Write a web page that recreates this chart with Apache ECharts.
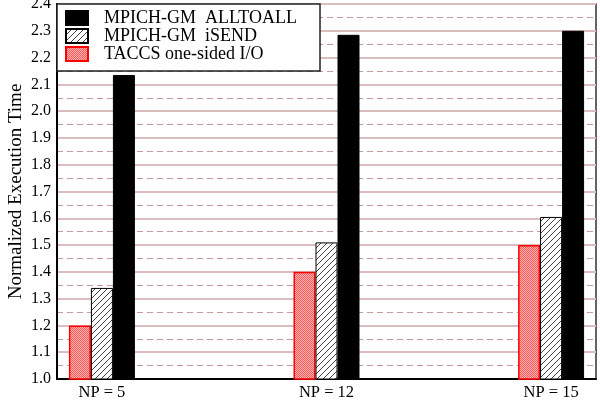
<!DOCTYPE html>
<html>
<head>
<meta charset="utf-8">
<script src="https://cdn.jsdelivr.net/npm/echarts@6/dist/echarts.min.js"></script>
<style>
  html, body { margin: 0; padding: 0; background: #fff; }
  #chart { width: 600px; height: 406px; }
</style>
</head>
<body>
<div id="chart"></div>
<script>
// Process counts along the x axis
const categories = ['NP = 5', 'NP = 12', 'NP = 15'];
// Normalized execution time per scheme
const taccsOneSided = [1.20, 1.40, 1.50];
const mpichIsend = [1.34, 1.51, 1.605];
const mpichAlltoall = [2.135, 2.285, 2.30];
// Y range and step
const yMin = 1.0, yMax = 2.4, yStep = 0.1;

const SERIF = '"Liberation Serif", "DejaVu Serif", serif';

// The x axis is a row of evenly spaced slots; each group sits on one of them,
// with empty slots padding the ends and the gaps between groups.
const SLOT_COUNT = 13, FIRST_SLOT = 1, SLOT_STEP = 5;
const slotOf = i => FIRST_SLOT + SLOT_STEP * i;
const slotLabels = Array.from({ length: SLOT_COUNT }, () => '');
categories.forEach((c, i) => { slotLabels[slotOf(i)] = c; });
function toSlots(values) {
  const out = Array.from({ length: SLOT_COUNT }, () => '-');
  values.forEach((v, i) => { out[slotOf(i)] = v; });
  return out;
}

// Diagonal hatch fill
function hatchPattern() {
  const c = document.createElement('canvas');
  c.width = 6; c.height = 6;
  const g = c.getContext('2d');
  g.fillStyle = '#fff';
  g.fillRect(0, 0, 6, 6);
  g.strokeStyle = '#444';
  g.lineWidth = 1;
  g.beginPath();
  g.moveTo(-1, 7); g.lineTo(7, -1);
  g.moveTo(-4, 4); g.lineTo(4, -4);
  g.moveTo(2, 10); g.lineTo(10, 2);
  g.stroke();
  return { image: c, repeat: 'repeat' };
}

// Stippled red fill
function stipplePattern() {
  const c = document.createElement('canvas');
  c.width = 2; c.height = 2;
  const g = c.getContext('2d');
  g.fillStyle = '#ffb4b4';
  g.fillRect(0, 0, 2, 2);
  g.fillStyle = '#ff5a5a';
  g.fillRect(0, 0, 1, 1);
  g.fillRect(1, 1, 1, 1);
  return { image: c, repeat: 'repeat' };
}

const chart = echarts.init(document.getElementById('chart'), null, { renderer: 'canvas' });

chart.setOption({
  animation: false,
  backgroundColor: '#fff',
  grid: {
    left: 57, right: 4, top: 4, bottom: 27,
    outerBoundsMode: 'none',
    containLabel: false,
    show: true,
    borderColor: '#333',
    borderWidth: 1.5,
    backgroundColor: 'transparent'
  },
  legend: {
    data: ['MPICH-GM  ALLTOALL', 'MPICH-GM  iSEND', 'TACCS one-sided I/O'],
    orient: 'vertical',
    left: 57, top: 4,
    padding: [5, 23, 8, 8],
    itemGap: 0,
    itemWidth: 22,
    itemHeight: 14,
    icon: 'rect',
    backgroundColor: '#fff',
    borderColor: '#222',
    borderWidth: 1.5,
    borderRadius: 0,
    textStyle: { fontFamily: SERIF, fontSize: 18, lineHeight: 16, color: '#000', padding: [0, 0, 0, 11] },
    z: 10
  },
  xAxis: {
    type: 'category',
    data: slotLabels,
    boundaryGap: false,
    axisLine: { show: true, onZero: false, lineStyle: { color: '#000', width: 2 } },
    axisTick: { show: false },
    splitLine: { show: false },
    axisLabel: {
      interval: 0,
      fontFamily: SERIF, fontSize: 16.5, color: '#000', margin: 5
    }
  },
  yAxis: {
    type: 'value',
    min: yMin, max: yMax, interval: yStep,
    name: 'Normalized Execution Time',
    nameLocation: 'middle',
    nameGap: 31,
    nameMoveOverlap: false,
    nameTextStyle: { fontFamily: SERIF, fontSize: 19, color: '#000' },
    axisLine: { show: true, onZero: false, lineStyle: { color: '#000', width: 2 } },
    axisTick: { show: false },
    axisLabel: {
      formatter: v => v.toFixed(1),
      fontFamily: SERIF, fontSize: 16, color: '#000', margin: 6
    },
    splitLine: { show: true, lineStyle: { color: '#dcbcbc', width: 2 } },
    minorTick: { show: false, splitNumber: 2 },
    minorSplitLine: { show: true, lineStyle: { color: '#c49a9a', width: 1, type: [6, 4] } }
  },
  series: [
    {
      name: 'TACCS one-sided I/O',
      type: 'bar',
      data: toSlots(taccsOneSided),
      barWidth: 22,
      barGap: '0%',
      itemStyle: { color: stipplePattern(), borderColor: '#ff0000', borderWidth: 1.5 }
    },
    {
      name: 'MPICH-GM  iSEND',
      type: 'bar',
      data: toSlots(mpichIsend),
      barWidth: 22,
      barGap: '0%',
      itemStyle: { color: hatchPattern(), borderColor: '#000', borderWidth: 1 }
    },
    {
      name: 'MPICH-GM  ALLTOALL',
      type: 'bar',
      data: toSlots(mpichAlltoall),
      barWidth: 22,
      barGap: '0%',
      itemStyle: { color: '#000', borderColor: '#000', borderWidth: 1 }
    }
  ]
});
</script>
</body>
</html>
